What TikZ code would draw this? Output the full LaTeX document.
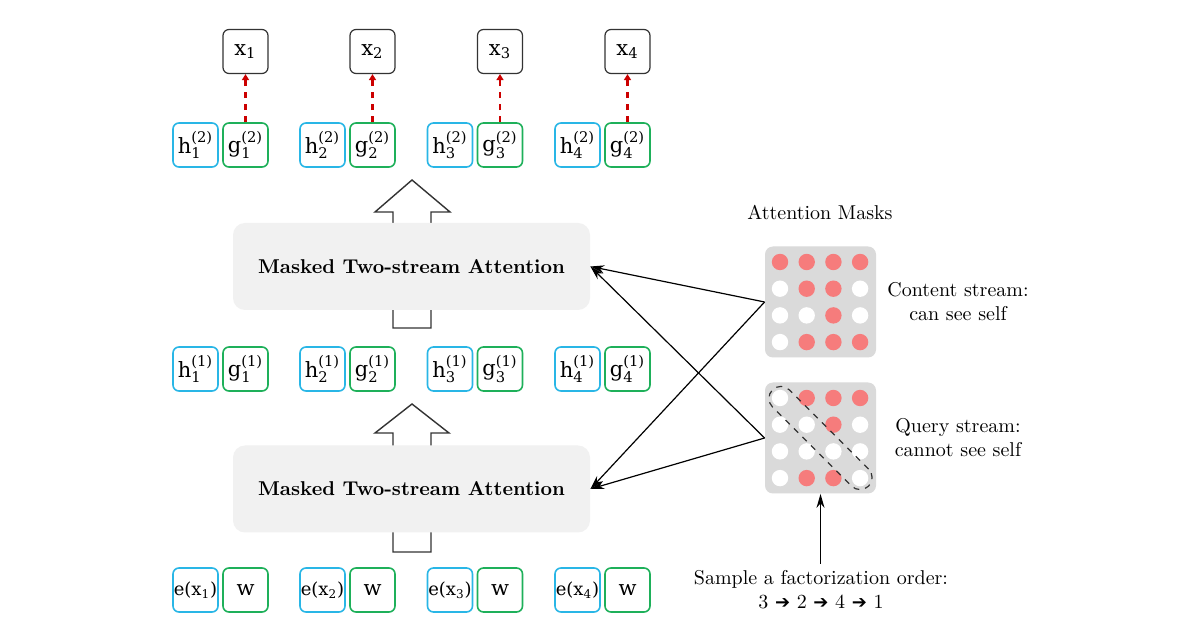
\documentclass[tikz,border=0pt]{standalone}
\usepackage{amsmath}
\usepackage{fontspec}
\usetikzlibrary{arrows.meta}
\newfontfamily\boxfont{DejaVu Serif}
\newfontfamily\symfont{DejaVu Sans}
\newcommand{\ordarrow}{\ {\symfont\small ➔}\ }
\definecolor{hstream}{RGB}{41,182,230}
\definecolor{gstream}{RGB}{30,176,90}
\definecolor{maskdot}{RGB}{246,124,124}
\definecolor{maskbg}{RGB}{218,218,218}
\definecolor{attnbg}{RGB}{241,241,241}

\tikzset{
  tok/.style={draw, rounded corners=3pt, line width=0.8pt, minimum width=22.5pt, minimum height=22pt, inner sep=0pt, font=\boxfont\fontsize{10.5}{12}\selectfont},
  hbox/.style={tok, draw=hstream},
  gbox/.style={tok, draw=gstream},
  ebox/.style={hbox, font=\boxfont\fontsize{9}{10}\selectfont},
  xbox/.style={tok, draw=black!80, line width=0.6pt},
  attn/.style={fill=attnbg, rounded corners=6pt, minimum width=178.5pt, minimum height=43.5pt, font=\bfseries},
  mask/.style={fill=maskbg, rounded corners=4pt, minimum size=55.5pt, inner sep=0pt},
  blockarrow/.style={draw=black!80, fill=white, line width=0.7pt},
  feed/.style={-{Stealth[length=7pt,width=4pt]}, line width=0.6pt},
  predict/.style={dashed, red!80!black, line width=1.2pt, -{Triangle[length=3pt,width=3.5pt]}}
}

\begin{document}
\begin{tikzpicture}[x=0.5pt,y=-0.5pt]
\useasboundingbox[fill=white] (0,0) rectangle (1200,630);

\draw[blockarrow] (393,328) -- (393,212) -- (375,212) -- (412,180) -- (450,212) -- (431,212) -- (431,328) -- cycle;
\draw[blockarrow] (393,552) -- (393,433) -- (375,433) -- (412,404) -- (449,433) -- (431,433) -- (431,552) -- cycle;
\node[attn] (attn2) at (411.5,266.5) {Masked Two-stream Attention};
\node[attn] (attn1) at (411.5,489) {Masked Two-stream Attention};

\foreach \i/\px in {1/195.5,2/322.5,3/450,4/577.5} {
  \node[ebox] (e\i) at (\px,590) {e(x$_{\text{\i}}$)};
  \node[gbox] (w\i) at (\px+50,590) {w};
  \node[hbox] (h1\i) at (\px,369) {$\text{h}^{\text{(1)}}_{\text{\i}}$};
  \node[gbox] (g1\i) at (\px+50,369) {$\text{g}^{\text{(1)}}_{\text{\i}}$};
  \node[hbox] (h2\i) at (\px,145) {$\text{h}^{\text{(2)}}_{\text{\i}}$};
  \node[gbox] (g2\i) at (\px+50,145) {$\text{g}^{\text{(2)}}_{\text{\i}}$};
  \node[xbox] (x\i) at (\px+50,51.5) {x$_{\text{\i}}$};
  \draw[predict] (g2\i.north) -- (x\i.south);
}

\node (title) at (820,212) {Attention Masks};
\node[mask] (cmask) at (820.5,302) {};
\node[mask] (qmask) at (820.5,438) {};
\foreach \r/\row in {0/{1,1,1,1},1/{0,1,1,0},2/{0,0,1,0},3/{0,1,1,1}} {
  \foreach \v [count=\c from 0] in \row {
    \ifnum\v=1 \def\dotcol{maskdot}\else \def\dotcol{white}\fi
    \fill[\dotcol] (780+26.7*\c,262+26.7*\r) circle[radius=4.1pt];
  }
}
\foreach \r/\row in {0/{0,1,1,1},1/{0,0,1,0},2/{0,0,0,0},3/{0,1,1,0}} {
  \foreach \v [count=\c from 0] in \row {
    \ifnum\v=1 \def\dotcol{maskdot}\else \def\dotcol{white}\fi
    \fill[\dotcol] (780+26.7*\c,398+26.7*\r) circle[radius=4.1pt];
  }
}
\node[draw, dashed, black!80, line width=0.6pt, rotate=-45, minimum width=68pt, minimum height=12pt, rounded corners=6pt] (diag) at (qmask) {};

\node[align=center] (clabel) at (958,302) {Content stream:\\can see self};
\node[align=center] (qlabel) at (958,438) {Query stream:\\cannot see self};
\node[align=center] (order) at (821,590) {Sample a factorization order:\\3\ordarrow 2\ordarrow 4\ordarrow 1};
\coordinate (orderin) at (qmask.south |- order.north);

\draw[feed] (cmask.west) -- (attn2.east);
\draw[feed] (cmask.west) -- (attn1.east);
\draw[feed] (qmask.west) -- (attn2.east);
\draw[feed] (qmask.west) -- (attn1.east);
\draw[feed] (orderin) -- (qmask.south);
\end{tikzpicture}
\end{document}
